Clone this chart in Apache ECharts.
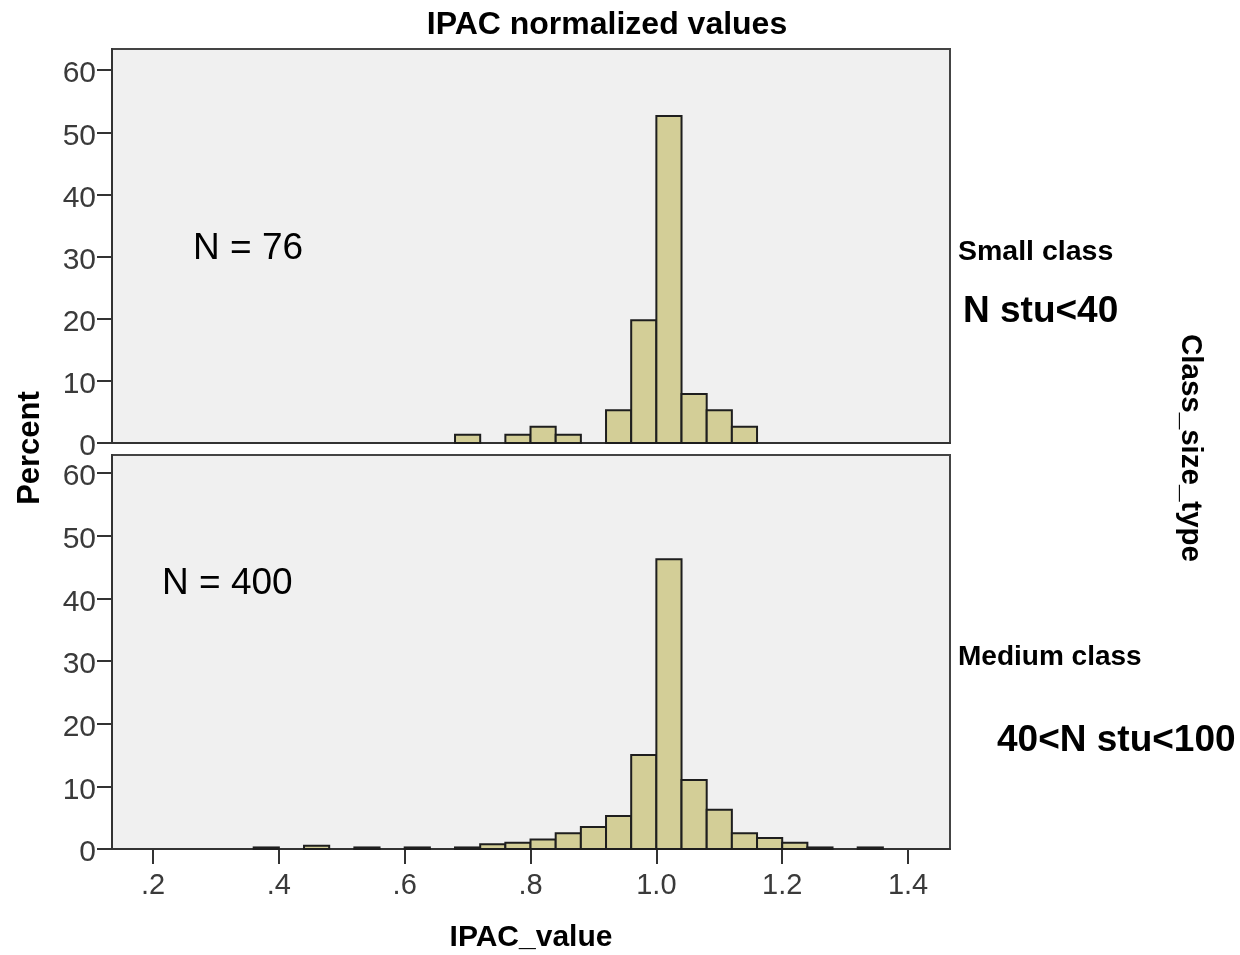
<!DOCTYPE html>
<html>
<head>
<meta charset="utf-8">
<script src="https://cdn.jsdelivr.net/npm/echarts@6/dist/echarts.min.js"></script>
<style>
html,body{margin:0;padding:0;background:#fff;}
#chart{width:1240px;height:955px;}
</style>
</head>
<body>
<div id="chart"></div>
<script>
// ---- data ----
const chartTitle = 'IPAC normalized values';
const xAxisName = 'IPAC_value';
const yAxisName = 'Percent';
const facetName = 'Class_size_type';
const binWidth = 0.04;
// bin start values (IPAC_value)
const smallBinStart = [0.68, 0.72, 0.76, 0.80, 0.84, 0.88, 0.92, 0.96, 1.00, 1.04, 1.08, 1.12];
const smallPercent  = [1.32, 0,    1.32, 2.63, 1.32, 0,    5.26, 19.74, 52.63, 7.89, 5.26, 2.63];
const mediumBinStart = [0.36, 0.40, 0.44, 0.48, 0.52, 0.56, 0.60, 0.64, 0.68, 0.72, 0.76, 0.80, 0.84,
                        0.88, 0.92, 0.96, 1.00, 1.04, 1.08, 1.12, 1.16, 1.20, 1.24, 1.28, 1.32];
const mediumPercent  = [0.25, 0,    0.5,  0,    0.25, 0,    0.25, 0,    0.25, 0.75, 1.0,  1.5,  2.5,
                        3.5,  5.25, 15.0, 46.25, 11.0, 6.25, 2.5, 1.75, 1.0,  0.25, 0,    0.25];
const xTicks = [0.2, 0.4, 0.6, 0.8, 1.0, 1.2, 1.4];
const xTickLabels = ['.2', '.4', '.6', '.8', '1.0', '1.2', '1.4'];
const yTicks = [0, 10, 20, 30, 40, 50, 60];
const panelLabels = ['Small class', 'Medium class'];
const panelNotes = ['N stu<40', '40<N stu<100'];
const panelCounts = ['N = 76', 'N = 400'];

// ---- chart ----
const chart = echarts.init(document.getElementById('chart'), null, {renderer: 'canvas'});
const FONT = '"Liberation Sans", Arial, sans-serif';
const tickColor = '#333';

function renderItem(params, api) {
  const x0 = api.value(0), v = api.value(1);
  if (!v) return null;
  const p0 = api.coord([x0, v]);
  const p1 = api.coord([x0 + binWidth, 0]);
  return {
    type: 'rect',
    shape: {x: p0[0], y: p0[1], width: p1[0] - p0[0], height: p1[1] - p0[1]},
    style: {fill: '#d3ce97', stroke: '#1e1e1e', lineWidth: 2}
  };
}

function xAxisCfg(idx, showLabels) {
  return {
    type: 'value', gridIndex: idx, min: 0.1348, max: 1.4667,
    axisLine: {show: true, onZero: false, lineStyle: {color: tickColor, width: 2}},
    axisTick: {show: showLabels, customValues: xTicks, length: 15, inside: false, lineStyle: {color: tickColor, width: 2}},
    axisLabel: {show: showLabels, customValues: xTicks, margin: 22, fontFamily: FONT, fontSize: 29, color: '#3a3a3a',
      formatter: v => { const i = xTicks.findIndex(t => Math.abs(t - v) < 1e-6); return i >= 0 ? xTickLabels[i] : ''; }},
    splitLine: {show: false}
  };
}
function yAxisCfg(idx, maxV) {
  return {
    type: 'value', gridIndex: idx, min: 0, max: maxV,
    axisLine: {show: true, lineStyle: {color: tickColor, width: 2}},
    axisTick: {show: true, customValues: yTicks, length: 15, lineStyle: {color: tickColor, width: 2}},
    axisLabel: {show: true, customValues: yTicks, margin: 16, fontFamily: FONT, fontSize: 30, color: '#3a3a3a',
      verticalAlign: 'top', lineHeight: 8},
    splitLine: {show: false}
  };
}

const textBase = {fontFamily: FONT, fill: '#000'};
function txt(x, y, text, size, weight, align, rotation) {
  return {
    type: 'text', x: x, y: y, rotation: rotation || 0, z: 100,
    style: Object.assign({}, textBase, {text: text, fontSize: size, fontWeight: weight, textAlign: align || 'left', textVerticalAlign: 'middle'})
  };
}

const option = {
  backgroundColor: '#ffffff',
  animation: false,
  grid: [
    {left: 112, width: 838, top: 49, height: 394, show: true, backgroundColor: '#f0f0f0', borderColor: '#444', borderWidth: 2},
    {left: 112, width: 838, top: 455, height: 394, show: true, backgroundColor: '#f0f0f0', borderColor: '#444', borderWidth: 2}
  ],
  xAxis: [xAxisCfg(0, false), xAxisCfg(1, true)],
  yAxis: [yAxisCfg(0, 63.4), yAxisCfg(1, 62.9)],
  series: [
    {type: 'custom', name: panelLabels[0], xAxisIndex: 0, yAxisIndex: 0, renderItem: renderItem,
     data: smallBinStart.map((s, i) => [s, smallPercent[i]]), encode: {x: 0, y: 1}},
    {type: 'custom', name: panelLabels[1], xAxisIndex: 1, yAxisIndex: 1, renderItem: renderItem,
     data: mediumBinStart.map((s, i) => [s, mediumPercent[i]]), encode: {x: 0, y: 1}}
  ],
  graphic: [
    txt(607, 25, chartTitle, 32, 'bold', 'center'),
    txt(531, 938, xAxisName, 30, 'bold', 'center'),
    txt(30, 448, yAxisName, 31, 'bold', 'center', Math.PI / 2),
    txt(1190, 448, facetName, 29.5, 'bold', 'center', -Math.PI / 2),
    txt(193, 249, panelCounts[0], 37, 'normal', 'left'),
    txt(162, 584, panelCounts[1], 37, 'normal', 'left'),
    txt(958, 252, panelLabels[0], 28.5, 'bold', 'left'),
    txt(963, 312, panelNotes[0], 37, 'bold', 'left'),
    txt(958, 657, panelLabels[1], 28, 'bold', 'left'),
    txt(997, 741, panelNotes[1], 37, 'bold', 'left')
  ]
};
chart.setOption(option);
</script>
</body>
</html>
